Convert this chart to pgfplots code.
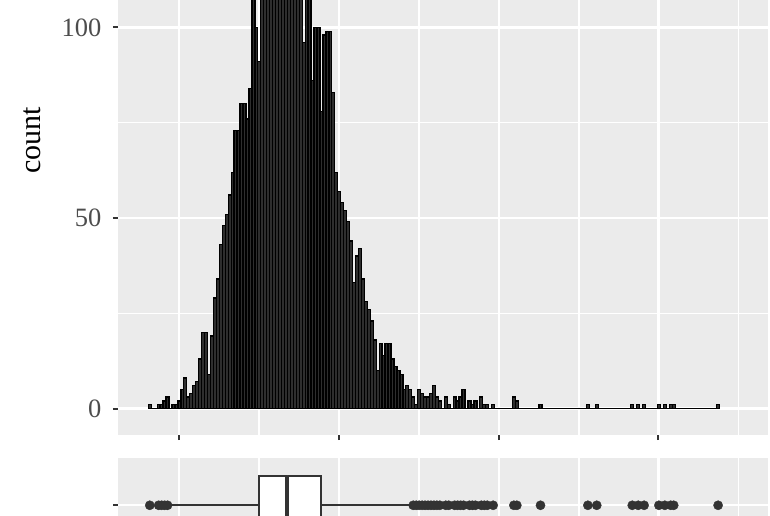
\documentclass[border=0pt]{standalone}
\usepackage{fontspec}
\setmainfont{Liberation Serif}
\usepackage{pgfplots}
\pgfplotsset{compat=1.18}
\usepgfplotslibrary{statistics}

\definecolor{panelgrey}{HTML}{EBEBEB}
\definecolor{grey20}{HTML}{333333}
\definecolor{grey30}{HTML}{4D4D4D}

% shared look of both ggplot-like panels (x in bin units, 2.96pt per bin)
\pgfplotsset{
  ggpanel/.style={
    x=2.96pt,
    xmin=-10.236, xmax=209.36,
    axis background/.style={fill=panelgrey},
    axis line style={draw=none},
    grid=both,
    major grid style={white, line width=2.2pt},
    minor grid style={white, line width=1.1pt},
    xtick={10.37,64.43,118.48,172.36},
    minor xtick={37.40,91.45,145.51,199.39},
    xticklabels={},
    tick align=outside,
    xtick pos=left, ytick pos=left,
    major tick length=5pt,
    minor tick length=0pt,
    tick style={grey20, line width=2pt},
  }
}

\begin{document}
\begin{tikzpicture}
\useasboundingbox (0,0) rectangle (770pt,515pt);
\clip (0,0) rectangle (770pt,515pt);

% histogram panel
\begin{axis}[ggpanel,
  y=3.81pt, ymin=-6.955, ymax=147.9,
  at={(118pt,80pt)}, anchor=south west,
  ytick={0,50,100}, minor ytick={25,75},
  /pgf/number format/assume math mode=true,
  yticklabel style={font=\fontsize{26.5}{30}\selectfont, text=grey30, xshift=-8pt},
  ylabel={count},
  ylabel style={at={(axis description cs:-0.1315,0.5)}, anchor=center,
    font=\fontsize{30}{36}\selectfont},
]
\addplot[ybar interval, fill=black!82, draw=black, line width=1.3pt] coordinates {
(0,1) (1,0) (2,0) (3,1) (4,1) (5,2) (6,3) (7,0) (8,1) (9,1)
(10,2) (11,5) (12,8) (13,3) (14,4) (15,6) (16,7) (17,13) (18,20) (19,20)
(20,9) (21,19) (22,29) (23,34) (24,43) (25,48) (26,51) (27,56) (28,62) (29,73)
(30,73) (31,80) (32,80) (33,76) (34,84) (35,112) (36,100) (37,91) (38,110) (39,115)
(40,121) (41,118) (42,126) (43,123) (44,131) (45,128) (46,135) (47,129) (48,124) (49,127)
(50,119) (51,113) (52,96) (53,112) (54,109) (55,86) (56,100) (57,100) (58,78) (59,98)
(60,99) (61,99) (62,83) (63,62) (64,57) (65,54) (66,52) (67,49) (68,44) (69,33)
(70,40) (71,42) (72,34) (73,28) (74,26) (75,23) (76,18) (77,10) (78,17) (79,14)
(80,17) (81,17) (82,13) (83,11) (84,10) (85,9) (86,5) (87,6) (88,5) (89,3)
(90,1) (91,5) (92,4) (93,3) (94,3) (95,4) (96,6) (97,3) (98,2) (99,0)
(100,3) (101,1) (102,0) (103,3) (104,2) (105,3) (106,5) (107,0) (108,2) (109,1)
(110,2) (111,0) (112,3) (113,1) (114,1) (115,0) (116,1) (117,0) (118,0) (119,0)
(120,0) (121,0) (122,0) (123,3) (124,2) (125,0) (126,0) (127,0) (128,0) (129,0)
(130,0) (131,0) (132,1) (133,0) (134,0) (135,0) (136,0) (137,0) (138,0) (139,0)
(140,0) (141,0) (142,0) (143,0) (144,0) (145,0) (146,0) (147,0) (148,1) (149,0)
(150,0) (151,1) (152,0) (153,0) (154,0) (155,0) (156,0) (157,0) (158,0) (159,0)
(160,0) (161,0) (162,0) (163,1) (164,0) (165,1) (166,0) (167,1) (168,0) (169,0)
(170,0) (171,0) (172,1) (173,0) (174,1) (175,0) (176,1) (177,1) (178,0) (179,0)
(180,0) (181,0) (182,0) (183,0) (184,0) (185,0) (186,0) (187,0) (188,0) (189,0)
(190,0) (191,0) (192,1) (193,0)
};
\end{axis}

% boxplot panel
\begin{axis}[ggpanel,
  y=78.8pt, ymin=0.4, ymax=1.6,
  at={(118pt,57pt)}, anchor=north west,
  ytick={1}, yticklabels={},
]
\addplot[boxplot prepared={lower whisker=7.6, lower quartile=37.43, median=46.96,
    upper quartile=58.38, upper whisker=88.4, draw position=1, box extend=0.75,
    whisker extend=0, every median/.style={line width=4pt}},
  draw=grey20, fill=white, line width=2pt] coordinates {};
\addplot[only marks, mark=*, mark size=4.6pt, grey20, mark options={fill=grey20, draw=none}]
  coordinates {
(0.5,1) (3.5,1) (4.5,1) (5.5,1) (6.5,1)
(89.5,1) (90.5,1) (91.5,1) (92.5,1) (93.5,1) (94.5,1) (95.5,1) (96.5,1) (97.5,1) (98.5,1)
(100.5,1) (101.5,1) (103.5,1) (104.5,1) (105.5,1) (106.5,1) (108.5,1) (109.5,1) (110.5,1)
(112.5,1) (113.5,1) (114.5,1) (116.5,1)
(123.5,1) (124.5,1) (132.5,1) (148.5,1) (151.5,1) (163.5,1) (165.5,1) (167.5,1)
(172.5,1) (174.5,1) (176.5,1) (177.5,1) (192.5,1)
};
\end{axis}
\end{tikzpicture}
\end{document}
